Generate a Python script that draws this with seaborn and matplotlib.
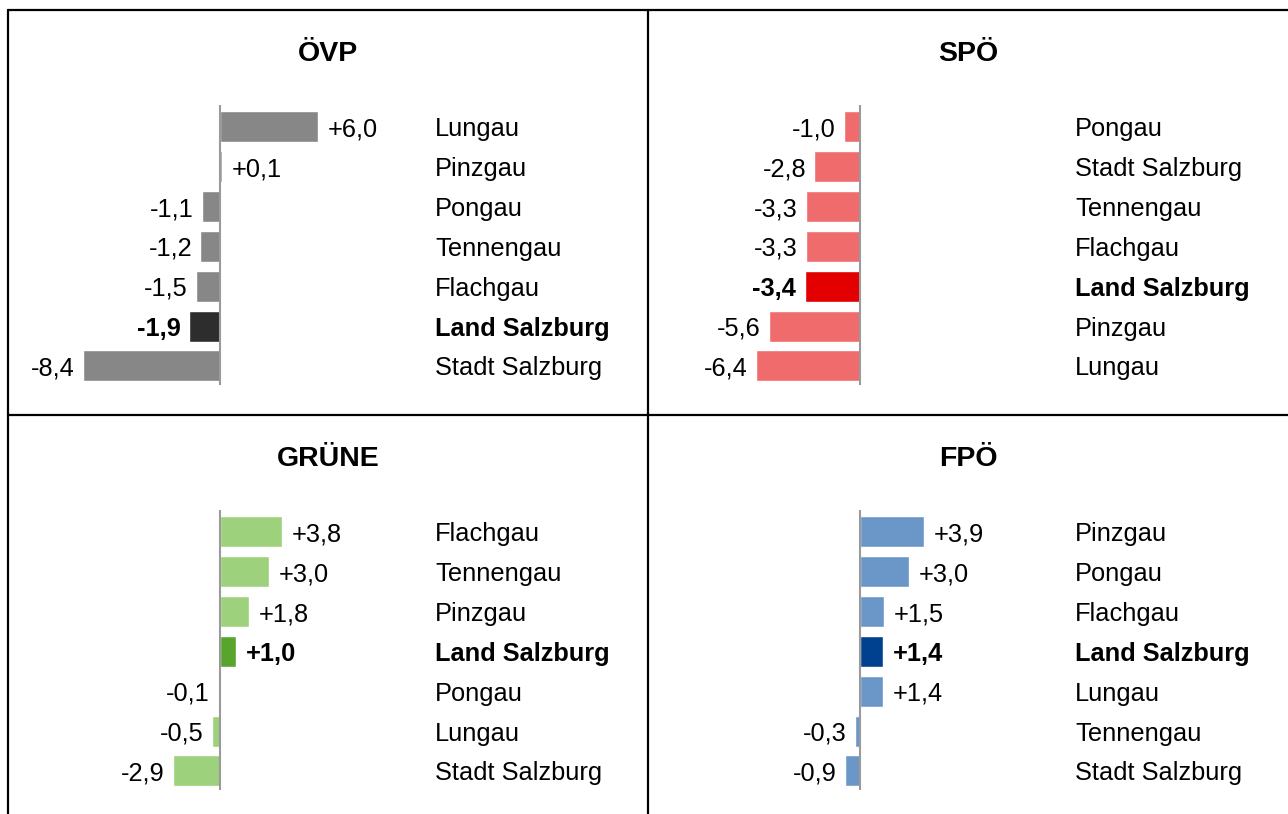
import numpy as np
import pandas as pd
import matplotlib
matplotlib.use("Agg")
import matplotlib.pyplot as plt
from matplotlib.lines import Line2D
import seaborn as sns

# data
oevp_regions = ["Lungau", "Pinzgau", "Pongau", "Tennengau", "Flachgau", "Land Salzburg", "Stadt Salzburg"]
oevp_values = [6.0, 0.1, -1.1, -1.2, -1.5, -1.9, -8.4]

spoe_regions = ["Pongau", "Stadt Salzburg", "Tennengau", "Flachgau", "Land Salzburg", "Pinzgau", "Lungau"]
spoe_values = [-1.0, -2.8, -3.3, -3.3, -3.4, -5.6, -6.4]

gruene_regions = ["Flachgau", "Tennengau", "Pinzgau", "Land Salzburg", "Pongau", "Lungau", "Stadt Salzburg"]
gruene_values = [3.8, 3.0, 1.8, 1.0, -0.1, -0.5, -2.9]

fpoe_regions = ["Pinzgau", "Pongau", "Flachgau", "Land Salzburg", "Lungau", "Tennengau", "Stadt Salzburg"]
fpoe_values = [3.9, 3.0, 1.5, 1.4, 1.4, -0.3, -0.9]

highlight = "Land Salzburg"

sns.set_theme(style="white")
plt.rcParams["font.family"] = ["Liberation Sans", "DejaVu Sans"]

W, H = 1288, 814
fig = plt.figure(figsize=(W / 100, H / 100), dpi=100)

px_per_unit = 16.3
zero_off = 212      # px from panel left to zero line
ax_w = 420          # px
fs = 18.3

panels = [
    ("ÖVP", oevp_regions, oevp_values, "#878787", "#2d2d2d", 8, 10),
    ("SPÖ", spoe_regions, spoe_values, "#f06c6c", "#e30000", 648, 10),
    ("GRÜNE", gruene_regions, gruene_values, "#9dd17b", "#57a52c", 8, 415),
    ("FPÖ", fpoe_regions, fpoe_values, "#6b97c8", "#00418f", 648, 415),
]

for title, regions, values, light, dark, px, py in panels:
    df = pd.DataFrame({"region": regions, "value": values})
    pal = {r: (dark if r == highlight else light) for r in regions}

    ax_top = py + 95
    ax = fig.add_axes([px / W, 1 - (ax_top + 280) / H, ax_w / W, 280 / H])
    sns.barplot(data=df, x="value", y="region", hue="region", palette=pal,
                orient="h", width=0.78, saturation=1, legend=False, ax=ax)
    ax.set_xlim(-zero_off / px_per_unit, (ax_w - zero_off) / px_per_unit)
    ax.set_ylim(6.48, -0.55)
    ax.axvline(0, color="#9a9a9a", lw=1.5, zorder=5)

    for i, (r, v) in enumerate(zip(regions, values)):
        lab = f"{v:+.1f}".replace(".", ",")
        bold = "bold" if r == highlight else "normal"
        ax.annotate(lab, (v, i), xytext=(7 if v > 0 else -6, 0),
                    textcoords="offset points", va="center_baseline",
                    ha="left" if v > 0 else "right",
                    fontsize=fs, fontweight=bold, color="black")

    ax.yaxis.tick_right()
    ax.tick_params(axis="y", length=0, pad=5, labelsize=fs, labelcolor="black")
    for t in ax.get_yticklabels():
        if t.get_text() == highlight:
            t.set_fontweight("bold")
    ax.set_xticks([])
    ax.set_xlabel("")
    ax.set_ylabel("")
    for s in ax.spines.values():
        s.set_visible(False)
    ax.patch.set_alpha(0)

    fig.text((px + 320) / W, 1 - (py + 44) / H, title, ha="center", va="center",
             fontsize=20.5, fontweight="bold", color="black")

# panel frame
lw = 1.6
fig.add_artist(Line2D([8 / W, 1], [1 - 10 / H] * 2, color="black", lw=lw))
fig.add_artist(Line2D([8 / W, 1], [1 - 415 / H] * 2, color="black", lw=lw))
fig.add_artist(Line2D([8 / W] * 2, [0, 1 - 10 / H], color="black", lw=lw))
fig.add_artist(Line2D([648 / W] * 2, [0, 1 - 10 / H], color="black", lw=lw))

fig.savefig("out.png", dpi=100)
